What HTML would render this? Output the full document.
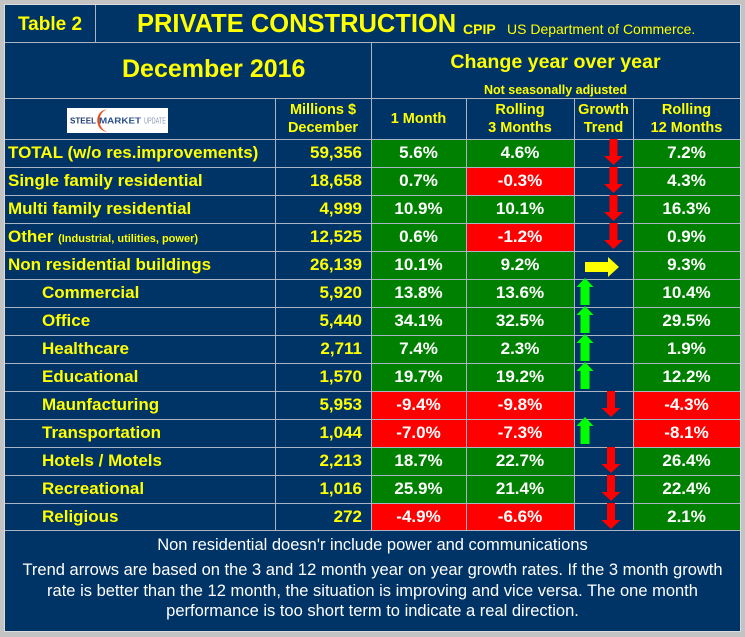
<!DOCTYPE html>
<html><head><meta charset="utf-8">
<style>
*{margin:0;padding:0;box-sizing:border-box}
html,body{width:745px;height:637px;overflow:hidden;background:#c3c3c3;font-family:"Liberation Sans",Arial,sans-serif}
#f{position:absolute;left:4px;top:4px;width:737px;height:628px;background:#003366;border:1px solid #dcdcdc}
.a{position:absolute;white-space:nowrap}
.y{color:#ffff00;font-weight:bold}
.w{color:#ffffff;font-weight:bold}
.r{position:absolute;left:0;width:745px;height:28px}
.r div{position:absolute;top:0;height:28px;line-height:28px;font-size:17px;font-weight:bold;white-space:nowrap}
.lab{left:8px;color:#ffff00}
.sub{left:42px;color:#ffff00}
.val{left:275px;width:87px;text-align:right;color:#ffff00}
.c1{left:371px;width:95px;text-align:center;color:#fff}
.c3{left:466px;width:108px;text-align:center;color:#fff}
.c5{left:633px;width:107px;text-align:center;color:#fff}
.g{background:#008000}
.rd{background:#ff0000}
.hl{position:absolute;left:5px;width:735px;height:1px;background:#a9b5c5}
.vl{position:absolute;width:1px;background:#a9b5c5}
.hd{position:absolute;top:98px;height:41px;display:flex;align-items:center;justify-content:center;text-align:center;color:#ffff00;font-weight:bold;font-size:14.5px;line-height:18px}
</style></head><body>
<div id="f"></div>

<!-- title row -->
<div class="a y" style="left:5px;width:90px;text-align:center;top:15px;font-size:19px;line-height:19px">Table 2</div>
<div class="a y" style="left:137px;top:12px;font-size:25.5px;line-height:25.5px">PRIVATE CONSTRUCTION</div>
<div class="a y" style="left:463px;top:22px;font-size:14px;line-height:14px">CPIP</div>
<div class="a" style="left:507px;top:22px;font-size:14px;line-height:14px;color:#ffff00">US Department of Commerce.</div>

<!-- December row -->
<div class="a y" style="left:122px;top:57px;font-size:25px;line-height:25px">December 2016</div>
<div class="a y" style="left:371px;width:369px;text-align:center;top:52px;font-size:19.6px;line-height:20px">Change year over year</div>
<div class="a y" style="left:371px;width:369px;text-align:center;top:84px;font-size:12.5px;line-height:12.5px">Not seasonally adjusted</div>

<!-- header row -->
<svg class="a" style="left:67px;top:108px" width="101" height="25" viewBox="0 0 101 25">
<rect x="0" y="0" width="101" height="25" fill="#ffffff"/>
<path d="M40 1.2 C27 2.5 27 22.5 40 23.8 C30 20 30 5 40 1.2 Z" fill="#e8501a"/>
<text x="3" y="15.5" font-family="Liberation Sans,Arial,sans-serif" font-weight="bold" font-size="8" fill="#1f3a6e" textLength="26" lengthAdjust="spacingAndGlyphs">STEEL</text>
<text x="32" y="15.5" font-family="Liberation Sans,Arial,sans-serif" font-weight="bold" font-size="8.5" fill="#2a4f8f" textLength="42" lengthAdjust="spacingAndGlyphs">MARKET</text>
<text x="77" y="15.5" font-family="Liberation Sans,Arial,sans-serif" font-size="8.5" fill="#8a9ab8" textLength="22" lengthAdjust="spacingAndGlyphs">UPDATE</text>
</svg>
<div class="hd" style="left:275px;width:96px">Millions $<br>December</div>
<div class="hd" style="left:371px;width:95px">1 Month</div>
<div class="hd" style="left:466px;width:108px">Rolling<br>3 Months</div>
<div class="hd" style="left:574px;width:59px">Growth<br>Trend</div>
<div class="hd" style="left:633px;width:107px">Rolling<br>12 Months</div>

<!-- data rows -->
<div class="r" style="top:139px"><div class="lab">TOTAL (w/o res.improvements)</div><div class="val">59,356</div><div class="c1 g">5.6%</div><div class="c3 g">4.6%</div><div class="c5 g">7.2%</div></div>
<div class="r" style="top:167px"><div class="lab">Single family residential</div><div class="val">18,658</div><div class="c1 g">0.7%</div><div class="c3 rd">-0.3%</div><div class="c5 g">4.3%</div></div>
<div class="r" style="top:195px"><div class="lab">Multi family residential</div><div class="val">4,999</div><div class="c1 g">10.9%</div><div class="c3 g">10.1%</div><div class="c5 g">16.3%</div></div>
<div class="r" style="top:223px"><div class="lab">Other <span style="font-size:11px">(Industrial, utilities, power)</span></div><div class="val">12,525</div><div class="c1 g">0.6%</div><div class="c3 rd">-1.2%</div><div class="c5 g">0.9%</div></div>
<div class="r" style="top:251px"><div class="lab">Non residential buildings</div><div class="val">26,139</div><div class="c1 g">10.1%</div><div class="c3 g">9.2%</div><div class="c5 g">9.3%</div></div>
<div class="r" style="top:279px"><div class="sub">Commercial</div><div class="val">5,920</div><div class="c1 g">13.8%</div><div class="c3 g">13.6%</div><div class="c5 g">10.4%</div></div>
<div class="r" style="top:307px"><div class="sub">Office</div><div class="val">5,440</div><div class="c1 g">34.1%</div><div class="c3 g">32.5%</div><div class="c5 g">29.5%</div></div>
<div class="r" style="top:335px"><div class="sub">Healthcare</div><div class="val">2,711</div><div class="c1 g">7.4%</div><div class="c3 g">2.3%</div><div class="c5 g">1.9%</div></div>
<div class="r" style="top:363px"><div class="sub">Educational</div><div class="val">1,570</div><div class="c1 g">19.7%</div><div class="c3 g">19.2%</div><div class="c5 g">12.2%</div></div>
<div class="r" style="top:391px"><div class="sub">Maunfacturing</div><div class="val">5,953</div><div class="c1 rd">-9.4%</div><div class="c3 rd">-9.8%</div><div class="c5 rd">-4.3%</div></div>
<div class="r" style="top:419px"><div class="sub">Transportation</div><div class="val">1,044</div><div class="c1 rd">-7.0%</div><div class="c3 rd">-7.3%</div><div class="c5 rd">-8.1%</div></div>
<div class="r" style="top:447px"><div class="sub">Hotels / Motels</div><div class="val">2,213</div><div class="c1 g">18.7%</div><div class="c3 g">22.7%</div><div class="c5 g">26.4%</div></div>
<div class="r" style="top:475px"><div class="sub">Recreational</div><div class="val">1,016</div><div class="c1 g">25.9%</div><div class="c3 g">21.4%</div><div class="c5 g">22.4%</div></div>
<div class="r" style="top:503px"><div class="sub">Religious</div><div class="val">272</div><div class="c1 rd">-4.9%</div><div class="c3 rd">-6.6%</div><div class="c5 g">2.1%</div></div>

<!-- grid lines -->
<div class="hl" style="top:42px"></div>
<div class="hl" style="top:98px"></div>
<div class="hl" style="top:139px"></div>
<div class="hl" style="top:167px"></div>
<div class="hl" style="top:195px"></div>
<div class="hl" style="top:223px"></div>
<div class="hl" style="top:251px"></div>
<div class="hl" style="top:279px"></div>
<div class="hl" style="top:307px"></div>
<div class="hl" style="top:335px"></div>
<div class="hl" style="top:363px"></div>
<div class="hl" style="top:391px"></div>
<div class="hl" style="top:419px"></div>
<div class="hl" style="top:447px"></div>
<div class="hl" style="top:475px"></div>
<div class="hl" style="top:503px"></div>
<div class="hl" style="top:530px"></div>
<div class="vl" style="left:95px;top:5px;height:37px"></div>
<div class="vl" style="left:371px;top:42px;height:489px"></div>
<div class="vl" style="left:275px;top:98px;height:433px"></div>
<div class="vl" style="left:466px;top:98px;height:433px"></div>
<div class="vl" style="left:574px;top:98px;height:433px"></div>
<div class="vl" style="left:633px;top:98px;height:433px"></div>

<!-- arrows -->
<svg class="a" style="left:0;top:0" width="745" height="637" viewBox="0 0 745 637">
<g fill="#ff0000">
<polygon points="609.5,139 617.5,139 617.5,156 623,156 613.5,165 604,156 609.5,156"/>
<polygon points="609.5,167 617.5,167 617.5,184 623,184 613.5,193 604,184 609.5,184"/>
<polygon points="609.5,195 617.5,195 617.5,212 623,212 613.5,221 604,212 609.5,212"/>
<polygon points="609.5,223 617.5,223 617.5,240 623,240 613.5,249 604,240 609.5,240"/>
<polygon points="607,391 615,391 615,408 620.5,408 611,417 601.5,408 607,408"/>
<polygon points="607,447 615,447 615,464 620.5,464 611,473 601.5,464 607,464"/>
<polygon points="607,475 615,475 615,492 620.5,492 611,501 601.5,492 607,492"/>
<polygon points="607,503 615,503 615,520 620.5,520 611,529 601.5,520 607,520"/>
</g>
<polygon fill="#ffff00" points="585,262 608,262 608,257 619,267 608,277 608,272 585,272"/>
<g fill="#00ff00">
<polygon points="585,278 593.5,287 589.5,287 589.5,305 580.5,305 580.5,287 576.5,287"/>
<polygon points="585,306 593.5,315 589.5,315 589.5,333 580.5,333 580.5,315 576.5,315"/>
<polygon points="585,334 593.5,343 589.5,343 589.5,361 580.5,361 580.5,343 576.5,343"/>
<polygon points="585,362 593.5,371 589.5,371 589.5,389 580.5,389 580.5,371 576.5,371"/>
<polygon points="585,417 593.5,426 589.5,426 589.5,444 580.5,444 580.5,426 576.5,426"/>
</g>
</svg>

<!-- footer -->
<div class="a" style="left:5px;width:735px;top:535px;text-align:center;color:#fff;font-size:16.5px;line-height:20.5px">Non residential doesn'r include power and communications</div>
<div class="a" style="left:5px;width:735px;top:560px;text-align:center;color:#fff;font-size:16.5px;line-height:20.5px">Trend arrows are based on the 3 and 12 month year on year growth rates. If the 3 month growth<br>rate is better than the 12 month, the situation is improving and vice versa. The one month<br>performance is too short term to indicate a real direction.</div>
</body></html>
